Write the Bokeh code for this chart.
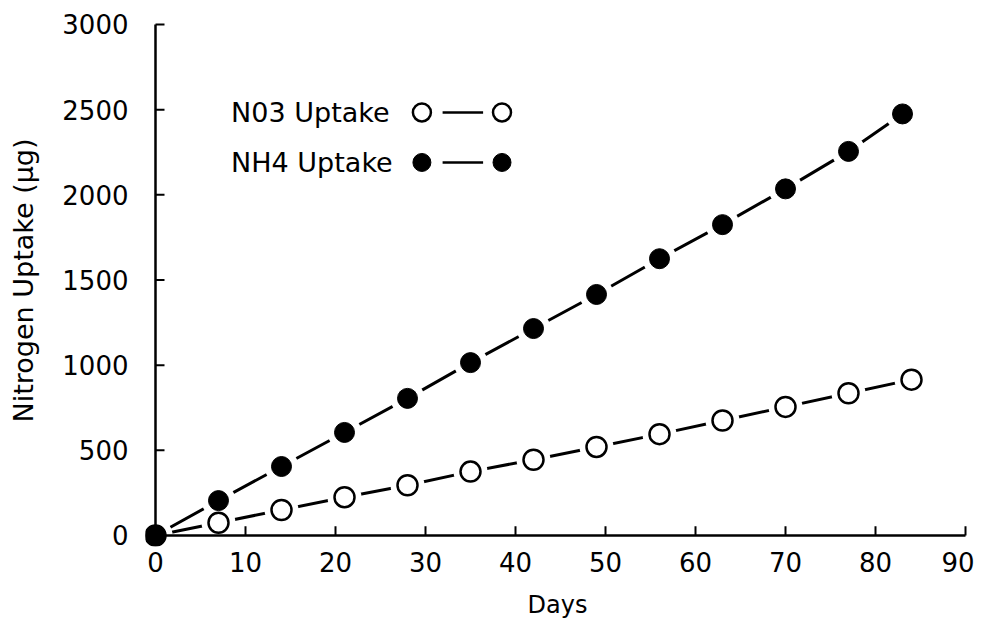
from bokeh.plotting import figure
from bokeh.models import Range1d, FixedTicker
from bokeh.core.properties import value
from bokeh.embed import file_html
from bokeh.resources import INLINE

# ---- data ----
days_no3 = [0, 7, 14, 21, 28, 35, 42, 49, 56, 63, 70, 77, 84]
no3_uptake = [0, 75, 150, 225, 295, 375, 445, 520, 595, 675, 755, 835, 915]
days_nh4 = [0, 7, 14, 21, 28, 35, 42, 49, 56, 63, 70, 77, 83]
nh4_uptake = [0, 205, 405, 605, 805, 1015, 1215, 1415, 1625, 1825, 2035, 2255, 2475]
x_ticks = [0, 10, 20, 30, 40, 50, 60, 70, 80, 90]
y_ticks = [0, 500, 1000, 1500, 2000, 2500, 3000]
legend_labels = ["N03 Uptake", "NH4 Uptake"]

FONT = "DejaVu Sans"

# axis extents (data) and tick lengths (data units)
X_MIN, X_MAX = 0, 90
Y_MIN, Y_MAX = 0, 3000
X_TICK_LEN = 55      # vertical tick length on x axis (y units)
Y_TICK_LEN = 1.0     # horizontal tick length on y axis (x units)

p = figure(width=974, height=624, output_backend="svg", toolbar_location=None,
           x_range=Range1d(-1.111, 90.444), y_range=Range1d(-64.6, 3058.7),
           min_border_left=145, min_border_right=5, min_border_top=14, min_border_bottom=78)
p.outline_line_color = None
p.xgrid.visible = False
p.ygrid.visible = False
p.background_fill_color = "white"
p.border_fill_color = "white"

for ax in (p.xaxis[0], p.yaxis[0]):
    ax.axis_line_color = None
    ax.major_tick_line_color = None
    ax.minor_tick_line_color = None
    ax.major_tick_in = 0
    ax.major_tick_out = 0
    ax.major_label_text_font = FONT
    ax.major_label_text_font_size = "26px"
    ax.major_label_text_color = "black"
    ax.axis_label_text_font = FONT
    ax.axis_label_text_font_style = "normal"
    ax.axis_label_text_color = "black"

p.xaxis[0].ticker = FixedTicker(ticks=x_ticks)
p.yaxis[0].ticker = FixedTicker(ticks=y_ticks)
p.xaxis[0].major_label_standoff = 5
p.yaxis[0].major_label_standoff = 17
p.yaxis[0].axis_label = "Nitrogen Uptake (\u03bcg)"
p.yaxis[0].axis_label_text_font_size = "27px"
p.yaxis[0].axis_label_standoff = 20
p.xaxis[0].axis_label = "Days"
p.xaxis[0].axis_label_text_font_size = "24px"
p.xaxis[0].axis_label_standoff = 16

# ---- series lines (gaps around markers made with white halos) ----
p.line(days_no3, no3_uptake, line_color="black", line_width=3)
p.line(days_nh4, nh4_uptake, line_color="black", line_width=3)
p.scatter(days_no3, no3_uptake, size=34, marker="circle", fill_color="white", line_color=None)
p.scatter(days_nh4, nh4_uptake, size=34, marker="circle", fill_color="white", line_color=None)

# ---- axis lines and inward ticks, crossing at the origin ----
p.segment(x0=[X_MIN, X_MIN], y0=[Y_MIN, Y_MIN], x1=[X_MAX, X_MIN], y1=[Y_MIN, Y_MAX],
          line_color="black", line_width=2.5)
p.segment(x0=x_ticks, y0=[Y_MIN] * len(x_ticks), x1=x_ticks,
          y1=[Y_MIN + X_TICK_LEN] * len(x_ticks), line_color="black", line_width=2)
p.segment(x0=[X_MIN] * len(y_ticks), y0=y_ticks, x1=[X_MIN + Y_TICK_LEN] * len(y_ticks),
          y1=y_ticks, line_color="black", line_width=2)

# ---- markers ----
p.scatter(days_no3, no3_uptake, size=20, marker="circle", fill_color="white",
          line_color="black", line_width=2.5)
p.scatter(days_nh4, nh4_uptake, size=20, marker="circle", fill_color="black",
          line_color="black", line_width=1)

# ---- legend (drawn manually: label, marker, line, marker) ----
leg_y = [2484, 2190]
leg_text_x = 8.4
leg_m1_x = 29.6
leg_m2_x = 38.5
leg_l0 = 31.9
leg_l1 = 36.4
p.text(x=[leg_text_x, leg_text_x], y=leg_y, text=legend_labels,
       text_font=value(FONT), text_font_size="27px", text_baseline="middle",
       text_align="left", text_color="black")
p.segment(x0=[leg_l0, leg_l0], y0=leg_y, x1=[leg_l1, leg_l1], y1=leg_y,
          line_color="black", line_width=2.5)
p.scatter([leg_m1_x, leg_m2_x], [leg_y[0], leg_y[0]], size=18, marker="circle",
          fill_color="white", line_color="black", line_width=2.5)
p.scatter([leg_m1_x, leg_m2_x], [leg_y[1], leg_y[1]], size=18, marker="circle",
          fill_color="black", line_color="black")

open("out.html", "w").write(file_html(p, INLINE))
